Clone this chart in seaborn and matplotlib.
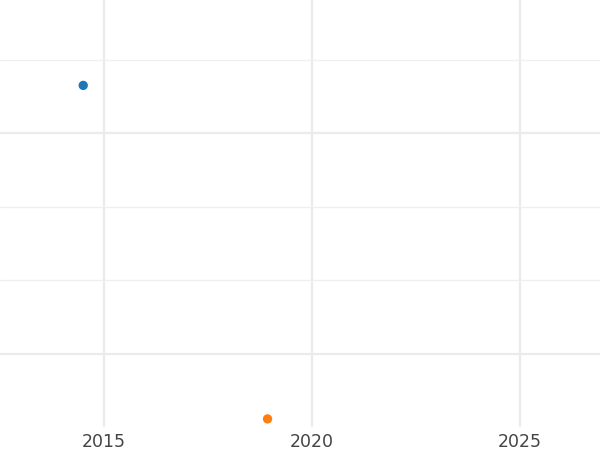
import matplotlib
matplotlib.use("Agg")
import matplotlib.pyplot as plt
from matplotlib.ticker import MultipleLocator
import pandas as pd
import seaborn as sns

# --- Data ---
years = [2014.5, 2018.93]
values = [3.65, -0.88]
groups = ["a", "b"]
colors = ["#1f77b4", "#ff7f0e"]

df = pd.DataFrame({"year": years, "value": values, "group": groups})

# --- Plot ---
sns.set_theme(style="white")
fig = plt.figure(figsize=(6, 4.5), dpi=100)
ax = fig.add_axes([0, 23 / 450, 1, 427 / 450])

sns.scatterplot(data=df, x="year", y="value", hue="group", palette=colors,
                s=45, edgecolor="none", legend=False, ax=ax, zorder=3)

ax.set_xlim(2012.5, 2026.92)
ax.set_ylim(-0.99, 4.81)
ax.xaxis.set_major_locator(MultipleLocator(5))
ax.yaxis.set_major_locator(MultipleLocator(3))
ax.yaxis.set_minor_locator(MultipleLocator(1))

ax.grid(which="major", color="#ebebeb", linewidth=1.6)
ax.grid(which="minor", axis="y", color="#efefef", linewidth=0.9)
ax.set_axisbelow(True)

for side in ax.spines.values():
    side.set_visible(False)
ax.tick_params(axis="x", length=0, pad=4, labelsize=12.5, labelcolor="#444444")
ax.tick_params(axis="y", which="both", length=0, labelleft=False)
ax.set_xlabel("")
ax.set_ylabel("")

fig.savefig("out.png", dpi=100)
